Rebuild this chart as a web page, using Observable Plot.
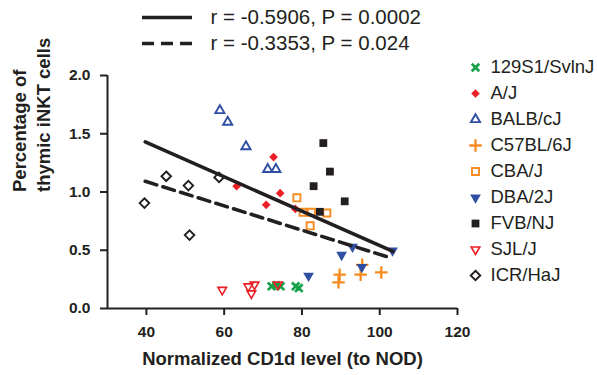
<!DOCTYPE html>
<html>
<head>
<meta charset="utf-8">
<script src="https://cdn.jsdelivr.net/npm/d3@7"></script>
<script src="https://cdn.jsdelivr.net/npm/@observablehq/plot@0.6"></script>
<style>
  html, body { margin: 0; padding: 0; background: #fff; }
  #wrap { position: relative; width: 597px; height: 375px; overflow: hidden; }
  #wrap > svg { position: absolute; margin: 0; }
</style>
</head>
<body>
<div id="wrap"></div>
<script>
// ---- data ----
const strainNames = ["129S1/SvlnJ", "A/J", "BALB/cJ", "C57BL/6J", "CBA/J", "DBA/2J", "FVB/NJ", "SJL/J", "ICR/HaJ"];

const pointStrain = [
  "129S1/SvlnJ","129S1/SvlnJ","129S1/SvlnJ","129S1/SvlnJ","129S1/SvlnJ",
  "A/J","A/J","A/J","A/J","A/J",
  "BALB/cJ","BALB/cJ","BALB/cJ","BALB/cJ","BALB/cJ",
  "C57BL/6J","C57BL/6J","C57BL/6J","C57BL/6J","C57BL/6J",
  "CBA/J","CBA/J","CBA/J","CBA/J","CBA/J",
  "DBA/2J","DBA/2J","DBA/2J","DBA/2J","DBA/2J",
  "FVB/NJ","FVB/NJ","FVB/NJ","FVB/NJ","FVB/NJ",
  "SJL/J","SJL/J","SJL/J","SJL/J","SJL/J",
  "ICR/HaJ","ICR/HaJ","ICR/HaJ","ICR/HaJ","ICR/HaJ"
];
const cd1dLevel = [
  72.2, 73.4, 74.5, 78.4, 79.2,
  63.2, 70.8, 72.7, 74.4, 78.3,
  58.9, 60.9, 65.6, 71.2, 73.3,
  89.7, 89.4, 95.1, 95.5, 100.4,
  78.7, 80.3, 82.4, 86.4, 82.1,
  81.7, 90.2, 93.0, 95.4, 103.3,
  85.5, 87.2, 83.0, 91.0, 84.6,
  59.5, 66.2, 67.8, 67.0, 73.8,
  39.5, 45.1, 50.8, 51.1, 58.7
];
const inktPercent = [
  0.19, 0.20, 0.19, 0.19, 0.175,
  1.05, 0.89, 1.30, 0.99, 0.855,
  1.70, 1.60, 1.39, 1.195, 1.195,
  0.29, 0.225, 0.29, 0.375, 0.31,
  0.95, 0.826, 0.826, 0.82, 0.71,
  0.28, 0.46, 0.53, 0.355, 0.497,
  1.42, 1.175, 1.05, 0.92, 0.83,
  0.16, 0.19, 0.205, 0.13, 0.205,
  0.905, 1.135, 1.055, 0.63, 1.125
];

// regression lines (end points)
const fitX = [39.7, 103.4];
const fitAllY = [1.43, 0.49];
const fitX2 = [39.7, 102.8];
const fitSubY = [1.092, 0.435];

const fitLabels = ["r = -0.5906, P = 0.0002", "r = -0.3353, P = 0.024"];

const xTicks = [40, 60, 80, 100, 120];
const yTicks = [0, 0.5, 1.0, 1.5, 2.0];

// ---- styles ----
const GREEN = "#16a04a", RED = "#ec1f26", BLUE = "#2f4fa2", ORANGE = "#f68b1f", BLACK = "#231f20";
const styles = {
  "129S1/SvlnJ": {symbol: "times", r: 3.5, fill: "none", stroke: GREEN, strokeWidth: 2.8},
  "A/J":         {symbol: "diamond2", r: 3.9, fill: RED, stroke: "none"},
  "BALB/cJ":     {symbol: "triangle", r: 3.4, fill: "none", stroke: BLUE, strokeWidth: 1.9},
  "C57BL/6J":    {symbol: "plus", r: 4.1, fill: "none", stroke: ORANGE, strokeWidth: 2.3},
  "CBA/J":       {symbol: "square", r: 4.0, fill: "none", stroke: ORANGE, strokeWidth: 1.9},
  "DBA/2J":      {symbol: "triangle", r: 4.0, fill: BLUE, stroke: "none", rotate: 180},
  "FVB/NJ":      {symbol: "square", r: 4.4, fill: BLACK, stroke: "none"},
  "SJL/J":       {symbol: "triangle", r: 3.2, fill: "none", stroke: RED, strokeWidth: 1.6, rotate: 180},
  "ICR/HaJ":     {symbol: "diamond2", r: 4.3, fill: "none", stroke: BLACK, strokeWidth: 1.9}
};

const FONT = "'Liberation Sans', Arial, Helvetica, sans-serif";

const points = pointStrain.map((s, i) => ({strain: s, x: cd1dLevel[i], y: inktPercent[i]}));
const lineA = fitX.map((x, i) => ({x, y: fitAllY[i]}));
const lineB = fitX2.map((x, i) => ({x, y: fitSubY[i]}));

const dotMarks = strainNames.map(s => {
  const st = styles[s];
  return Plot.dot(points.filter(d => d.strain === s), {x: "x", y: "y", ...st});
});

const main = Plot.plot({
  width: 597,
  height: 375,
  marginLeft: 107,
  marginRight: 140,
  marginTop: 75,
  marginBottom: 67,
  style: {fontFamily: FONT, fontSize: "15px", color: BLACK, background: "transparent", overflow: "visible"},
  x: {domain: [30, 120]},
  y: {domain: [0, 2]},
  marks: [
    ...dotMarks,
    Plot.line(lineA, {x: "x", y: "y", stroke: BLACK, strokeWidth: 3.6}),
    Plot.line(lineB, {x: "x", y: "y", stroke: BLACK, strokeWidth: 3.6, strokeDasharray: "12,6.5"}),
    Plot.axisX({ticks: xTicks, tickSize: 7, tickPadding: 10, strokeWidth: 2, fontSize: 15.5, fontWeight: "bold", label: null, stroke: BLACK, fill: BLACK}),
    Plot.axisY({ticks: yTicks, tickFormat: d3.format(".1f"), tickSize: 7, tickPadding: 10, strokeWidth: 2, fontSize: 15.5, fontWeight: "bold", label: null, stroke: BLACK, fill: BLACK}),
    Plot.ruleY([0], {strokeWidth: 2, stroke: BLACK}),
    Plot.ruleX([30], {strokeWidth: 2, stroke: BLACK}),
    Plot.text(["Normalized CD1d level (to NOD)"], {frameAnchor: "bottom", dy: 56, fontSize: 18.5, fontWeight: "bold", fill: BLACK}),
    Plot.text(["Percentage of\nthymic iNKT cells"], {frameAnchor: "left", dx: -77, rotate: -90, fontSize: 18.5, fontWeight: "bold", lineHeight: 1.3, fill: BLACK})
  ]
});
main.style.left = "0px";
main.style.top = "0px";
document.getElementById("wrap").appendChild(main);

// right legend
const legendData = strainNames.map(s => ({strain: s}));
const legend = Plot.plot({
  width: 137,
  height: 250,
  margin: 0,
  style: {fontFamily: FONT, fontSize: "18.5px", color: BLACK, background: "transparent", overflow: "visible"},
  y: {type: "point", domain: strainNames, range: [15, 227], padding: 0, axis: null},
  marks: [
    ...strainNames.map(s => Plot.dot(legendData.filter(d => d.strain === s), {y: "strain", frameAnchor: "left", dx: 15, ...styles[s]})),
    Plot.text(legendData, {y: "strain", text: "strain", frameAnchor: "left", dx: 30, textAnchor: "start", fill: BLACK})
  ]
});
legend.style.left = "460px";
legend.style.top = "50px";
document.getElementById("wrap").appendChild(legend);

// top legend (fit lines)
const fitRows = fitLabels.map((label, i) => ({id: i, label}));
const topLegend = Plot.plot({
  width: 597,
  height: 60,
  margin: 0,
  style: {fontFamily: FONT, fontSize: "20.5px", color: BLACK, background: "transparent", overflow: "visible"},
  x: {domain: [0, 1], range: [142, 192], axis: null},
  y: {type: "point", domain: [0, 1], range: [17, 43], padding: 0, axis: null},
  marks: [
    Plot.ruleY(fitRows.filter(d => d.id === 0), {y: "id", x1: 0, x2: 1, stroke: BLACK, strokeWidth: 3.6}),
    Plot.ruleY(fitRows.filter(d => d.id === 1), {y: "id", x1: 0, x2: 1, stroke: BLACK, strokeWidth: 3.6, strokeDasharray: "12,7"}),
    Plot.text(fitRows, {y: "id", x: 1, dx: 18, text: "label", textAnchor: "start", fill: BLACK})
  ]
});
topLegend.style.left = "0px";
topLegend.style.top = "0px";
document.getElementById("wrap").appendChild(topLegend);
</script>
</body>
</html>
